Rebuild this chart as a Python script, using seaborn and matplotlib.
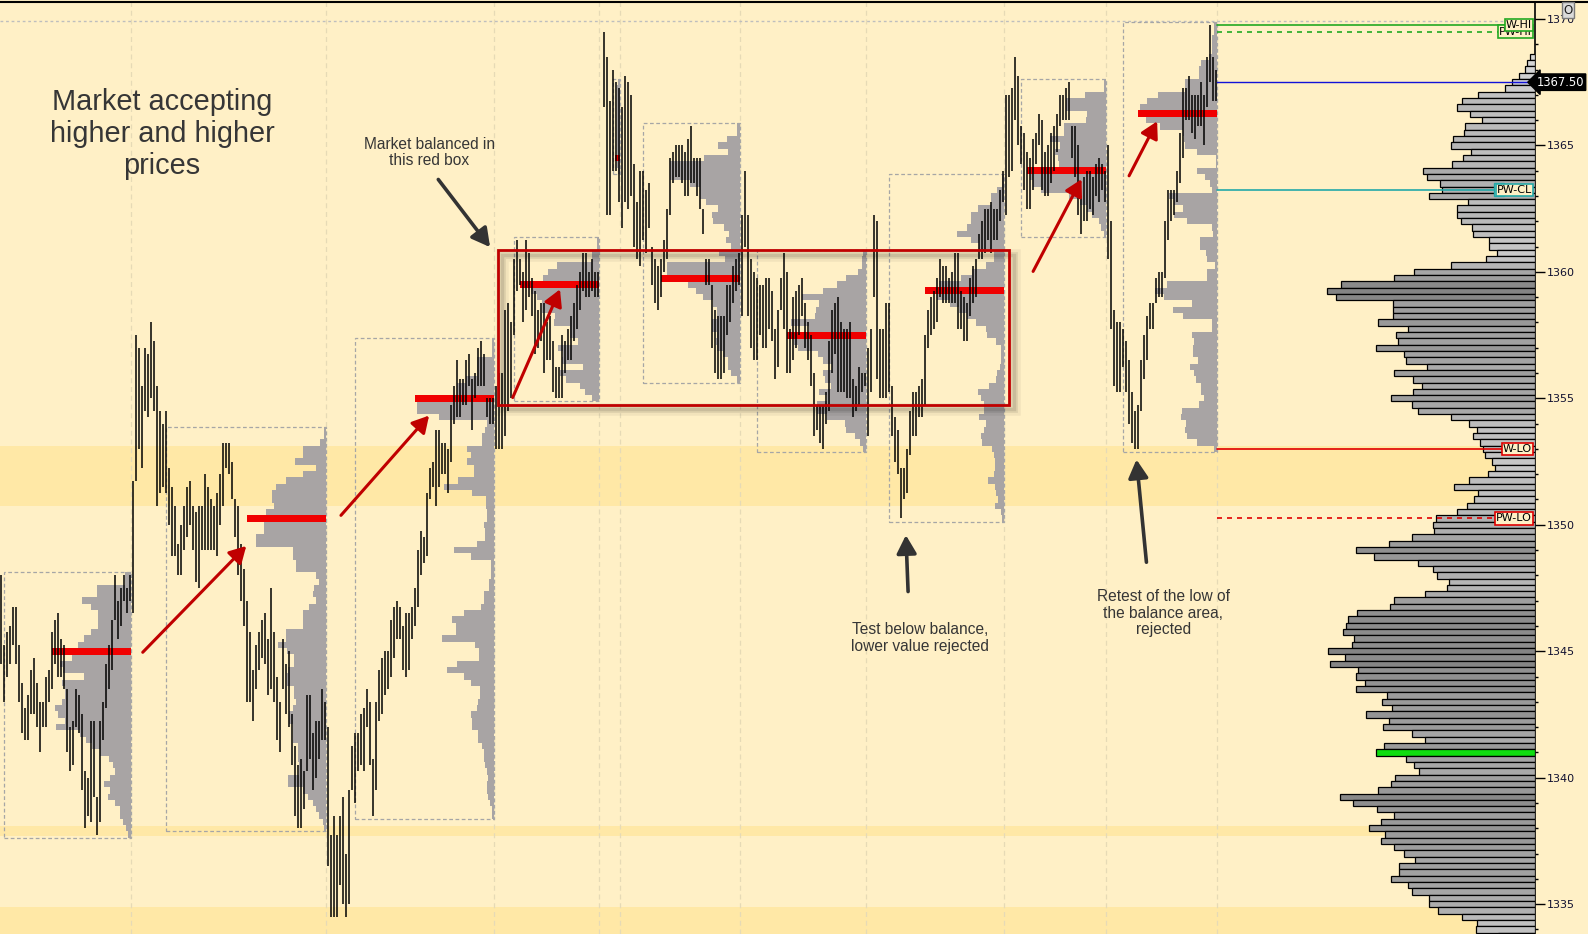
"""Market profile chart: balance area and acceptance of higher prices.

Price bars, session volume profiles with POC, weekly reference levels and a
composite profile on the right edge.
"""
import numpy as np
import seaborn as sns
import matplotlib.pyplot as plt
from matplotlib.patches import Rectangle, FancyArrowPatch
from matplotlib.lines import Line2D
from matplotlib.ticker import MultipleLocator

nan = np.nan
TICK = 0.25

# price bars: one high / low per bar, the bar index is the x position
bar_high = [
    1348.0, 1345.25, 1345.75, 1346.0, 1346.75, 1346.75, 1345.25, 1343.75, 1342.75, 1343.25,
    1344.25, 1344.75, 1343.75, 1343.0, 1343.0, 1344.0, 1344.25, 1345.75, 1346.25, 1346.5,
    1345.5, 1345.25, 1343.5, 1342.0, 1342.25, 1343.5, 1343.25, 1342.5, 1340.25, 1340.0,
    1342.25, 1342.25, 1339.25, 1342.25, 1343.0, 1344.5, 1345.25, 1346.25, 1348.0, 1347.0,
    1347.5, 1348.0, 1347.5, 1348.0, 1351.75, 1357.5, 1357.0, 1355.5, 1357.0, 1356.75,
    1358.0, 1357.25, 1355.5, 1354.5, 1354.0, 1354.5, 1352.25, 1351.5, 1350.75, 1349.25,
    1350.0, 1350.75, 1351.5, 1351.75, 1350.75, 1350.5, 1350.75, 1350.75, 1352.0, 1351.5,
    1351.0, 1350.75, 1351.25, 1352.0, 1353.25, 1353.25, 1353.25, 1352.5, 1351.0, 1350.75,
    1349.25, 1348.25, 1347.0, 1345.75, 1344.25, 1345.25, 1345.75, 1346.25, 1346.5, 1345.5,
    1347.5, 1345.75, 1344.0, 1343.0, 1345.5, 1344.5, 1345.0, 1342.5, 1341.25, 1340.5,
    1340.75, 1340.25, 1343.25, 1343.25, 1341.75, 1342.25, 1342.25, 1343.5, 1343.0, 1342.0,
    1337.75, 1338.5, 1337.75, 1338.5, 1339.25, 1337.0, 1339.5, 1341.25, 1341.75, 1341.75,
    1342.5, 1342.75, 1343.5, 1343.0, 1340.75, 1343.0, 1344.25, 1344.75, 1345.0, 1345.0,
    1346.25, 1346.75, 1347.0, 1346.75, 1346.0, 1346.5, 1346.5, 1346.75, 1347.5, 1349.0,
    1349.75, 1349.5, 1351.25, 1352.25, 1352.5, 1353.75, 1353.75, 1353.25, 1353.25, 1353.0,
    1354.75, 1355.5, 1356.5, 1355.75, 1355.75, 1356.5, 1356.75, 1355.75, 1356.0, 1357.0,
    1357.25, 1356.75, 1355.0, 1355.0, 1355.0, 1355.5, 1356.0, 1356.0, 1358.5, 1358.75,
    1358.0, 1360.5, 1361.25, 1360.5, 1360.0, 1361.25, 1360.75, 1359.75, 1359.25, 1358.5,
    1358.75, 1358.75, 1358.0, 1358.25, 1357.25, 1356.25, 1356.25, 1357.5, 1357.25, 1357.75,
    1358.25, 1358.75, 1359.5, 1360.0, 1360.75, 1360.75, 1360.0, 1360.5, 1360.0, 1360.0,
    nan, 1369.5, 1368.5, 1366.75, 1368.0, 1367.5, 1367.25, 1366.5, 1367.75, 1367.5,
    1367.0, 1364.25, 1362.75, 1364.0, 1364.0, 1363.25, 1363.5, 1361.0, 1360.5, 1360.25,
    1360.5, 1361.25, 1362.5, 1364.5, 1364.75, 1365.0, 1365.0, 1365.0, 1364.75, 1365.25,
    1365.75, 1364.5, 1364.5, 1364.5, 1362.5, 1360.5, 1360.5, 1359.5, 1358.5, 1358.25,
    1358.25, 1358.25, 1359.5, 1359.5, 1360.25, 1360.5, 1360.75, 1362.25, 1364.0, 1362.25,
    1360.5, 1360.0, 1359.75, 1359.5, 1359.5, 1359.75, 1359.75, 1359.25, 1357.75, 1358.5,
    1359.75, 1360.75, 1360.0, 1357.75, 1359.0, 1359.25, 1359.5, 1359.75, 1358.75, 1358.0,
    1357.5, 1356.0, 1354.75, 1354.75, 1354.75, 1355.25, 1357.25, 1358.5, 1358.75, 1359.0,
    1358.0, 1357.75, 1357.75, 1358.0, 1355.75, 1355.5, 1356.25, 1356.0, 1356.0, 1357.0,
    1357.75, 1362.25, 1362.0, 1357.75, 1357.75, 1358.75, 1358.75, 1355.5, 1354.25, 1353.75,
    1352.25, 1352.25, 1353.0, 1354.5, 1355.25, 1355.25, 1355.5, 1355.75, 1357.5, 1358.5,
    1359.0, 1359.25, 1359.75, 1360.5, 1360.25, 1360.25, 1359.75, 1360.0, 1360.75, 1360.75,
    1359.25, 1359.0, 1358.75, 1359.75, 1360.25, 1360.5, 1361.5, 1362.0, 1362.5, 1362.5,
    1362.75, 1362.5, 1362.5, 1363.25, 1364.0, 1367.0, 1367.0, 1367.25, 1368.5, 1367.75,
    1365.75, 1365.5, 1364.75, 1364.5, 1365.25, 1365.5, 1366.25, 1366.0, 1364.75, 1365.0,
    1365.5, 1365.75, 1366.25, 1367.0, 1367.0, 1367.25, 1367.5, 1365.75, 1365.75, 1365.0,
    1363.0, 1363.75, 1364.0, 1364.0, 1363.75, 1364.25, 1364.5, 1364.25, 1364.0, 1365.0,
    1362.0, 1358.5, 1358.0, 1358.0, 1357.75, 1357.25, 1356.5, 1355.25, 1354.5, 1354.75,
    1356.5, 1357.5, 1358.25, 1358.75, 1358.75, 1359.75, 1360.0, 1360.0, 1362.0, 1363.25,
    1363.25, 1363.25, 1364.0, 1365.5, 1367.25, 1367.25, 1367.75, 1367.0, 1367.0, 1367.0,
    1367.5, 1367.0, 1368.5, 1369.75, 1368.5, 1368.0,
]
bar_low = [
    1344.5, 1343.0, 1344.0, 1344.5, 1345.25, 1344.5, 1343.0, 1341.75, 1341.5, 1341.5,
    1342.5, 1342.5, 1342.0, 1341.0, 1342.0, 1342.0, 1343.0, 1343.5, 1344.5, 1344.0,
    1344.0, 1343.5, 1341.0, 1340.25, 1340.5, 1342.0, 1341.75, 1339.5, 1338.0, 1338.5,
    1338.25, 1339.25, 1337.75, 1338.25, 1341.5, 1342.75, 1343.5, 1344.25, 1346.25, 1345.5,
    1346.0, 1347.0, 1346.5, 1347.0, 1346.5, 1351.75, 1353.0, 1352.25, 1354.5, 1354.25,
    1355.0, 1354.5, 1350.75, 1351.25, 1351.5, 1351.25, 1350.0, 1348.75, 1348.75, 1348.0,
    1348.0, 1349.0, 1349.5, 1350.0, 1349.0, 1347.75, 1347.5, 1349.0, 1349.0, 1349.0,
    1349.0, 1349.0, 1348.75, 1350.0, 1350.75, 1352.25, 1352.0, 1351.0, 1349.5, 1348.0,
    1347.0, 1346.0, 1343.0, 1343.0, 1342.25, 1343.5, 1344.25, 1344.75, 1344.5, 1343.25,
    1343.5, 1343.0, 1341.5, 1341.0, 1343.5, 1342.5, 1342.0, 1340.5, 1338.5, 1338.0,
    1338.0, 1338.75, 1340.25, 1340.75, 1339.5, 1340.0, 1340.75, 1341.5, 1341.5, 1336.5,
    1334.5, 1334.5, 1334.5, 1335.75, 1335.0, 1334.5, 1335.0, 1339.5, 1339.0, 1340.25,
    1340.5, 1340.25, 1342.0, 1340.5, 1338.5, 1339.5, 1342.25, 1342.5, 1343.25, 1343.5,
    1344.0, 1344.75, 1345.5, 1345.5, 1344.25, 1344.0, 1344.25, 1345.5, 1346.0, 1346.75,
    1348.0, 1348.5, 1348.75, 1351.0, 1351.5, 1350.75, 1351.5, 1352.0, 1352.0, 1351.25,
    1352.5, 1354.0, 1354.25, 1354.25, 1354.75, 1354.75, 1355.5, 1353.75, 1355.0, 1355.5,
    1355.5, 1355.5, 1354.25, 1354.0, 1354.0, 1353.0, 1353.0, 1353.0, 1353.5, 1354.5,
    1355.0, 1357.5, 1359.25, 1359.5, 1358.0, 1358.5, 1359.0, 1358.25, 1356.75, 1357.0,
    1357.25, 1356.0, 1356.5, 1356.5, 1355.25, 1355.0, 1355.0, 1355.0, 1356.0, 1356.5,
    1356.5, 1357.25, 1357.75, 1358.5, 1359.25, 1359.0, 1359.0, 1359.25, 1359.0, 1359.0,
    nan, 1366.5, 1362.25, 1362.25, 1364.0, 1364.0, 1362.75, 1361.75, 1362.75, 1362.5,
    1363.0, 1361.0, 1360.5, 1360.25, 1361.25, 1360.75, 1361.75, 1359.5, 1358.75, 1358.5,
    1359.0, 1360.0, 1360.5, 1362.25, 1363.5, 1363.75, 1363.75, 1363.5, 1363.0, 1363.0,
    1363.5, 1363.5, 1363.0, 1362.5, 1361.5, 1359.5, 1359.5, 1357.0, 1356.0, 1355.75,
    1355.75, 1356.0, 1357.5, 1358.0, 1358.75, 1359.25, 1359.5, 1358.25, 1361.0, 1358.25,
    1357.0, 1356.5, 1356.5, 1357.5, 1357.0, 1357.0, 1357.75, 1357.25, 1355.75, 1356.25,
    1358.5, 1357.75, 1356.0, 1356.0, 1356.5, 1357.0, 1357.5, 1358.25, 1357.0, 1356.5,
    1355.5, 1353.5, 1353.75, 1353.25, 1353.0, 1354.0, 1354.5, 1356.0, 1356.75, 1355.25,
    1355.25, 1355.25, 1355.0, 1355.0, 1354.25, 1354.5, 1354.75, 1355.25, 1355.5, 1353.5,
    1355.25, 1359.0, 1355.75, 1355.0, 1355.0, 1355.0, 1355.25, 1353.5, 1352.5, 1352.0,
    1350.25, 1351.0, 1351.25, 1352.75, 1353.5, 1353.5, 1354.25, 1354.25, 1354.75, 1357.0,
    1357.5, 1357.75, 1358.0, 1359.0, 1358.75, 1358.75, 1358.75, 1358.75, 1358.75, 1357.75,
    1357.75, 1357.25, 1357.25, 1358.25, 1358.75, 1359.0, 1360.5, 1360.5, 1360.75, 1361.25,
    1360.75, 1361.25, 1361.25, 1362.0, 1362.75, 1362.25, 1363.75, 1364.0, 1366.0, 1365.0,
    1364.25, 1363.25, 1362.5, 1362.5, 1363.25, 1364.25, 1365.0, 1363.25, 1363.0, 1363.0,
    1363.5, 1364.0, 1364.75, 1365.75, 1366.0, 1366.0, 1366.0, 1364.5, 1363.75, 1362.25,
    1361.5, 1362.0, 1362.0, 1362.5, 1362.25, 1363.0, 1362.75, 1363.25, 1362.75, 1360.5,
    1357.75, 1355.5, 1355.25, 1355.25, 1356.25, 1355.25, 1354.0, 1353.25, 1353.0, 1353.0,
    1354.5, 1355.75, 1356.5, 1357.75, 1357.75, 1358.75, 1359.0, 1359.0, 1359.75, 1361.25,
    1362.0, 1362.25, 1362.75, 1363.5, 1364.5, 1366.0, 1366.0, 1365.5, 1365.25, 1365.75,
    1365.75, 1365.0, 1366.5, 1367.5, 1366.75, 1366.75,
]

# profile sessions: first / last bar of each box and the top price of its profile
session_first = [1, 55, 118, 171, 204, 214, 252, 296, 340, 374]
session_last = [43, 108, 164, 199, 206, 246, 288, 334, 368, 405]
session_top = [1348.0, 1353.75, 1357.25, 1361.25, 1367.5, 1365.75, 1360.75, 1363.75, 1367.5, 1369.75]

# volume per price row (0.25), read from the top of each profile downwards
profile_s1 = [6, 6, 34, 34, 49, 40, 33, 33, 33, 40, 47, 53, 79, 59, 71, 68, 47, 69, 66, 66,
              69, 76, 73, 66, 75, 51, 45, 39, 31, 22, 18, 16, 21, 27, 21, 23, 16, 11, 11, 8, 5, 3]
profile_s2 = [2, 2, 6, 23, 23, 31, 10, 23, 40, 50, 54, 54, 52, 60, 79, 62, 62, 70, 70, 33,
              33, 30, 30, 10, 7, 12, 13, 10, 17, 23, 23, 23, 40, 40, 48, 39, 32, 32, 38, 39,
              39, 32, 32, 30, 33, 37, 37, 33, 33, 33, 28, 28, 28, 27, 27, 38, 38, 23, 18, 13,
              10, 7, 3, 2]
profile_s3 = [2, 2, 2, 17, 17, 17, 28, 37, 37, 79, 77, 77, 55, 7, 9, 12, 12, 27, 23, 27,
              20, 20, 36, 50, 22, 8, 8, 7, 7, 10, 9, 9, 17, 40, 23, 3, 3, 3, 5, 5,
              10, 10, 13, 30, 42, 38, 38, 52, 19, 15, 15, 37, 47, 30, 23, 14, 14, 16, 17, 23,
              22, 22, 16, 16, 12, 10, 10, 9, 7, 6, 7, 7, 6, 4, 2, 2]
profile_s4 = [2, 2, 7, 7, 42, 51, 56, 79, 68, 62, 57, 57, 44, 45, 29, 29, 21, 41, 36, 37,
              16, 39, 33, 19, 14, 7]
profile_s5 = [2, 3, 3, 3, 3, 3, 3, 3, 3, 3, 3, 3, 4, 3, 2]
profile_s6 = [3, 3, 13, 22, 12, 36, 70, 70, 70, 50, 40, 40, 34, 22, 28, 27, 16, 11, 14, 9,
              21, 15, 73, 73, 79, 52, 44, 37, 27, 23, 23, 28, 28, 23, 24, 23, 17, 12, 12, 9, 3]
profile_s7 = [3, 4, 4, 8, 20, 29, 43, 65, 48, 51, 52, 76, 58, 80, 73, 69, 49, 43, 34, 43,
              41, 35, 47, 39, 50, 50, 39, 21, 20, 11, 6, 3]
profile_s8 = [2, 2, 7, 13, 13, 26, 33, 33, 37, 47, 33, 25, 10, 10, 18, 32, 43, 65, 79, 67,
              54, 45, 37, 28, 18, 17, 8, 3, 3, 3, 4, 7, 8, 15, 26, 23, 20, 20, 25, 18,
              20, 23, 22, 12, 10, 9, 9, 10, 16, 9, 8, 6, 9, 3, 2]
profile_s9 = [2, 2, 21, 40, 40, 19, 20, 42, 42, 57, 46, 52, 49, 47, 80, 77, 74, 66, 37, 26,
              19, 14, 7, 5, 2]
profile_s10 = [3, 3, 5, 5, 5, 8, 16, 18, 18, 32, 32, 60, 71, 78, 80, 72, 58, 34, 33, 32,
               20, 1, 1, 20, 12, 7, 5, 49, 43, 34, 43, 30, 5, 4, 17, 17, 11, 10, 2, 10,
               10, 51, 63, 54, 25, 44, 34, 5, 5, 25, 23, 24, 24, 19, 27, 23, 21, 16, 16, 13,
               18, 35, 36, 31, 32, 30, 20, 3]
profiles = [profile_s1, profile_s2, profile_s3, profile_s4, profile_s5,
            profile_s6, profile_s7, profile_s8, profile_s9, profile_s10]

# composite profile on the right, from 1368.50 down in 0.25 steps
composite_top = 1368.5
composite_volume = [
    5, 8, 10, 16, 23, 30, 57, 73, 78, 65, 53, 70, 71, 82, 84, 64, 72, 83, 112, 108,
    95, 93, 106, 67, 78, 78, 74, 63, 62, 46, 46, 38, 49, 84, 121, 141, 194, 208, 199, 142,
    142, 142, 157, 127, 139, 137, 159, 131, 129, 108, 141, 122, 113, 122, 144, 123, 117, 84, 66, 58,
    62, 55, 52, 50, 43, 40, 47, 66, 81, 57, 61, 68, 78, 99, 102, 101, 123, 146, 179, 161,
    117, 102, 98, 86, 88, 110, 141, 145, 178, 187, 189, 192, 181, 183, 207, 190, 205, 177, 179, 170,
    179, 148, 153, 143, 169, 146, 152, 123, 110, 151, 159, 129, 121, 116, 140, 144, 157, 195, 182, 158,
    141, 154, 166, 150, 154, 141, 131, 120, 136, 136, 144, 127, 123, 106, 106, 97, 73, 58, 59, 37,
]
composite_poc = 1341.0
last_price = 1367.5

# weekly reference levels
ref_names = ['W-HI', 'PW-HI', 'PW-CL', 'W-LO', 'PW-LO']
ref_prices = [1369.75, 1369.5, 1363.25, 1353.0, 1350.25]

# older value areas shaded in the background
band_low = [1350.75, 1337.7, 1333.8]
band_high = [1353.125, 1338.1, 1334.9]

# ---- style ----
BG = '#FFF0C6'
BAND = '#FFE8A6'
GRID = '#E6DAB6'
PROFILE = '#A8A4A4'
POC_RED = '#F00000'
ARROW_RED = '#C00000'
TEXT = '#363636'
PX = 1 / 3                      # bar units per pixel
PROFILE_PX = [79, 79, 79, 79, 4.5, 79, 79, 79, 79, 79]
REF_STYLE = {
    'W-HI': ('#22A822', '-'), 'PW-HI': ('#22A822', (0, (3, 3))),
    'PW-CL': ('#24A8A8', '-'), 'W-LO': ('#E00000', '-'), 'PW-LO': ('#E00000', (0, (3, 3))),
}

sns.set_theme(style='white', rc={'axes.facecolor': BG, 'figure.facecolor': BG})
plt.rcParams['font.family'] = ['DejaVu Sans']

fig = plt.figure(figsize=(15.88, 9.34), dpi=100)
ax = fig.add_axes([0, 0, 1535 / 1588, 932 / 934])
x_max = 1534 / 3
ax.set_xlim(-1 / 3, x_max)
ax.set_ylim(1333.82, 1370.67)

# background bands and session separators
for lo, hi in zip(band_low, band_high):
    ax.axhspan(lo, hi, color=BAND, lw=0, zorder=0)
for last in session_last:
    ax.axvline(last + 0.4, color=GRID, lw=0.9, ls=(0, (4, 3)), zorder=0.5)
ax.axhline(1369.9, xmax=(510 + 1 / 3) / (x_max + 1 / 3), color='#BEBEBE', lw=1, ls=(0, (2, 2)), zorder=1)

# session profiles, POC and dashed boxes
for first, last, top, vol, max_px in zip(session_first, session_last, session_top, profiles, PROFILE_PX):
    vol = np.asarray(vol, dtype=float)
    rows = top - TICK * np.arange(len(vol))
    widths = vol / vol.max() * max_px * PX
    right = last + 0.3
    ax.barh(rows, widths, height=TICK, left=right - widths, color=PROFILE, lw=0, zorder=2)
    k = int(np.argmax(vol))
    ax.barh(rows[k], widths[k], height=TICK * 1.08, left=right - widths[k], color=POC_RED, lw=0, zorder=3)
    bottom = rows[-1] - TICK / 2
    ax.add_patch(Rectangle((first + 0.1, bottom), right - first - 0.1, top + TICK / 2 - bottom,
                           fill=False, ec='#A6A6A6', lw=0.9, ls=(0, (3, 2)), zorder=2.5))

# price bars
idx = np.arange(len(bar_high))
ax.vlines(idx, bar_low, bar_high, color='black', lw=1.1, zorder=4)

# balance box with soft shadow
bx0, bx1, bp0, bp1 = 165.6, 336.1, 1354.75, 1360.85
for lw_s, a in [(9, 0.05), (5, 0.07), (2.5, 0.1)]:
    ax.add_patch(Rectangle((bx0 + 1.5, bp0 - 0.18), bx1 - bx0, bp1 - bp0, fill=False,
                           ec='black', lw=lw_s, alpha=a, zorder=4.5))
ax.add_patch(Rectangle((bx0, bp0), bx1 - bx0, bp1 - bp0, fill=False, ec='#C00000', lw=2, zorder=5))

# composite profile against the price axis
comp = np.asarray(composite_volume, dtype=float)
comp_rows = composite_top - TICK * np.arange(len(comp))
comp_w = comp * PX
shades = sns.blend_palette(['#D8D8D8', '#848484'], n_colors=101)
colors = [shades[int(round(v / comp.max() * 100))] for v in comp]
for j, p in enumerate(comp_rows):
    if abs(p - composite_poc) < 1e-6:
        colors[j] = '#10DD10'
    elif abs(p - last_price) < 1e-6:
        colors[j] = '#C9CBDA'
ax.barh(comp_rows, comp_w, height=TICK, left=x_max - comp_w, color=colors,
        edgecolor='black', lw=0.9, zorder=3)

# reference lines with their tags
right_end = session_last[-1] + 0.3
for name, price in zip(ref_names, ref_prices):
    col, ls = REF_STYLE[name]
    ax.plot([right_end, 510], [price, price], color=col, ls=ls, lw=1.2, zorder=5)
ax.plot([right_end, x_max], [last_price, last_price], color='#1212D8', lw=1, zorder=5)

tag_z = {'PW-HI': 6, 'W-HI': 7, 'PW-CL': 7, 'W-LO': 6, 'PW-LO': 6}
ax.text(500.6, ref_prices[2], '3', ha='right', va='center', fontsize=8, color='black', zorder=6,
        bbox=dict(boxstyle='square,pad=0.12', fc=BG, ec=REF_STYLE['PW-CL'][0], lw=1))
for name, price in zip(ref_names, ref_prices):
    ax.text(510.3, price, name, ha='right', va='center', fontsize=8, color='black',
            zorder=tag_z[name],
            bbox=dict(boxstyle='square,pad=0.1', fc=BG, ec=REF_STYLE[name][0], lw=1.2))

# price axis on the right
for side in ['left', 'bottom']:
    ax.spines[side].set_visible(False)
ax.spines['right'].set_color('black')
ax.spines['right'].set_linewidth(1.2)
ax.spines['top'].set_visible(False)
ax.yaxis.tick_right()
ax.yaxis.set_major_locator(MultipleLocator(5))
ax.yaxis.set_minor_locator(MultipleLocator(1))
ax.yaxis.set_major_formatter(lambda v, pos: f'{v:.0f}')
ax.tick_params(axis='y', which='major', right=True, length=7, width=1, pad=1.5,
               labelsize=8, labelcolor='#101030', color='black')
ax.tick_params(axis='y', which='minor', right=True, length=2.5, width=1, color='black')
ax.set_xticks([])
ax.text(1.0 + 1.5 / 1535, last_price, '1367.50', transform=ax.get_yaxis_transform(),
        ha='left', va='center', fontsize=8.3, color='white', zorder=8, clip_on=False,
        bbox=dict(boxstyle='larrow,pad=0.15', fc='black', ec='black'))
fig.add_artist(Line2D([0, 1], [1 - 1.5 / 934] * 2, color='black', lw=1.5, transform=fig.transFigure))
fig.text(1568 / 1588, 1 - 10 / 934, 'O', ha='center', va='center', fontsize=8.5, color='#202020',
         bbox=dict(boxstyle='square,pad=0.12', fc='#DADADA', ec='#7A7A7A', lw=1))

# annotations
arial = ['Liberation Sans', 'DejaVu Sans']
ax.text(53.7, 1365.45, 'Market accepting\nhigher and higher\nprices', ha='center', va='center',
        fontsize=20.8, color=TEXT, family=arial, linespacing=1.17, zorder=8)
ax.text(142.7, 1364.72, 'Market balanced in\nthis red box', ha='center', va='center',
        fontsize=11.2, color=TEXT, family=arial, linespacing=1.15, zorder=8)
ax.text(306.3, 1345.53, 'Test below balance,\nlower value rejected', ha='center', va='center',
        fontsize=11.2, color=TEXT, family=arial, linespacing=1.15, zorder=8)
ax.text(387.4, 1346.51, 'Retest of the low of\nthe balance area,\nrejected', ha='center', va='center',
        fontsize=11.2, color=TEXT, family=arial, linespacing=1.15, zorder=8)

black_arrows = [((145.2, 1363.74), (163.6, 1360.89)),
                ((302.4, 1347.25), (301.6, 1349.70)),
                ((381.9, 1348.41), (378.4, 1352.69))]
red_arrows = [((46.6, 1344.88), (82.4, 1349.24)),
              ((112.7, 1350.29), (143.3, 1354.40)),
              ((170.2, 1354.93), (186.7, 1359.41)),
              ((343.6, 1359.92), (360.6, 1363.76)),
              ((375.6, 1363.70), (385.8, 1366.05))]
for tail, tip in black_arrows:
    ax.add_patch(FancyArrowPatch(tail, tip, arrowstyle='-|>,head_length=0.55,head_width=0.3',
                                 mutation_scale=20, color='#333333', lw=2.6, zorder=8))
for tail, tip in red_arrows:
    ax.add_patch(FancyArrowPatch(tail, tip, arrowstyle='-|>,head_length=0.5,head_width=0.28',
                                 mutation_scale=20, color=ARROW_RED, lw=2.2, zorder=8))

fig.savefig('out.png', dpi=100, facecolor=BG)
